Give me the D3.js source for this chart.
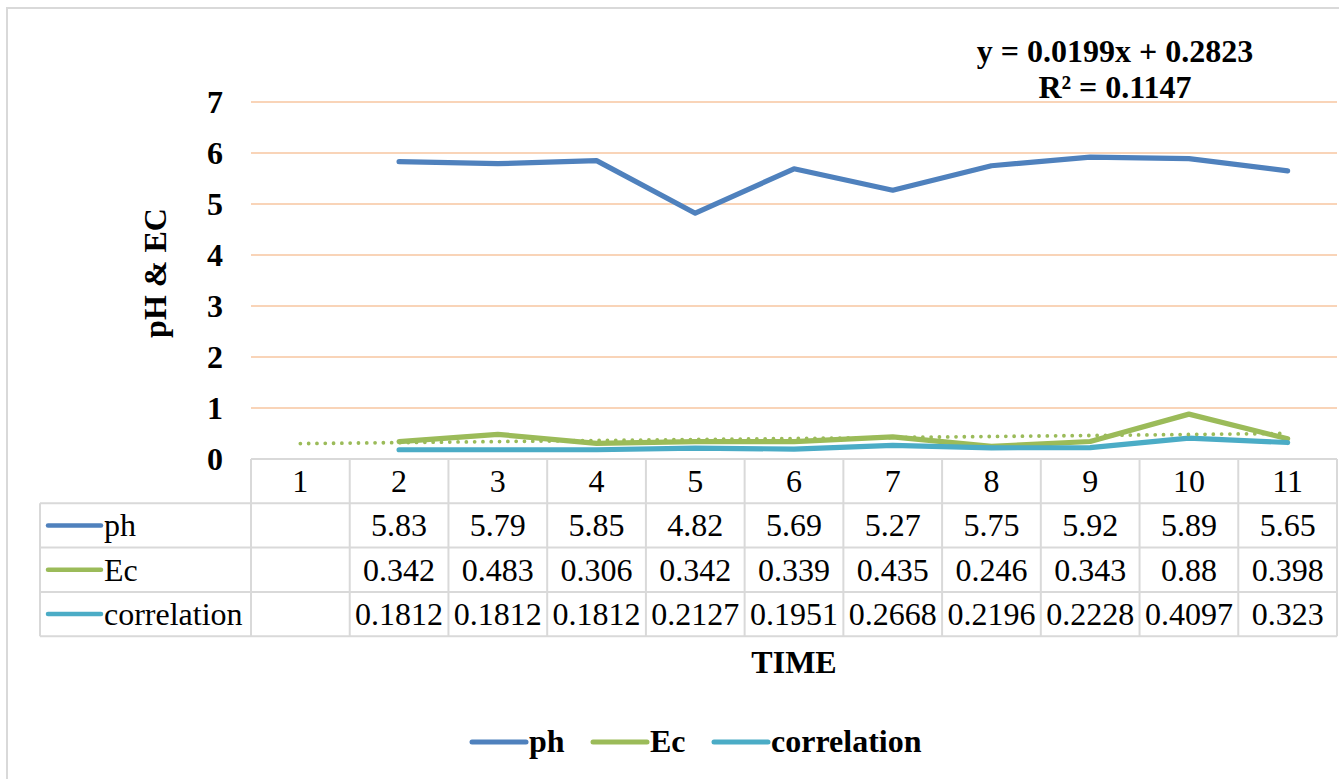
<!DOCTYPE html>
<html>
<head>
<meta charset="utf-8">
<script src="https://cdn.jsdelivr.net/npm/d3@7"></script>
<style>
  html, body { margin: 0; padding: 0; background: #fff; }
  svg { display: block; font-family: "Liberation Serif", "Times New Roman", serif; }
</style>
</head>
<body>
<svg id="chart" width="1339" height="779"></svg>
<script>
// ---------- data ----------
const categories = ["1", "2", "3", "4", "5", "6", "7", "8", "9", "10", "11"];
const phValues   = [null, 5.83, 5.79, 5.85, 4.82, 5.69, 5.27, 5.75, 5.92, 5.89, 5.65];
const ecValues   = [null, 0.342, 0.483, 0.306, 0.342, 0.339, 0.435, 0.246, 0.343, 0.88, 0.398];
const corrValues = [null, 0.1812, 0.1812, 0.1812, 0.2127, 0.1951, 0.2668, 0.2196, 0.2228, 0.4097, 0.323];
const phLabels   = ["", "5.83", "5.79", "5.85", "4.82", "5.69", "5.27", "5.75", "5.92", "5.89", "5.65"];
const ecLabels   = ["", "0.342", "0.483", "0.306", "0.342", "0.339", "0.435", "0.246", "0.343", "0.88", "0.398"];
const corrLabels = ["", "0.1812", "0.1812", "0.1812", "0.2127", "0.1951", "0.2668", "0.2196", "0.2228", "0.4097", "0.323"];
const yTicks = [0, 1, 2, 3, 4, 5, 6, 7];
const trendSlope = 0.0199, trendIntercept = 0.2823;
const trendText = ["y = 0.0199x + 0.2823", "R\u00B2 = 0.1147"];
const seriesNames = ["ph", "Ec", "correlation"];
const seriesColors = ["#4f81bd", "#9bbb59", "#4bacc6"];

// ---------- layout ----------
const svg = d3.select("#chart");
const plotL = 251, plotR = 1337, plotT = 102, plotB = 459;
const rowH = 44.3;
const tableL = 40;
const gridColor = "#f7c6a0";
const borderColor = "#d9d9d9";

const x = d3.scaleBand().domain(categories).range([plotL, plotR]).padding(0);
const y = d3.scaleLinear().domain([0, 7]).range([plotB, plotT]);
const cx = c => x(c) + x.bandwidth() / 2;

// outer chart border
svg.append("rect").attr("x", 7).attr("y", 8).attr("width", 1400).attr("height", 900)
  .attr("fill", "none").attr("stroke", borderColor).attr("stroke-width", 2);

// gridlines
svg.append("g").selectAll("line").data(yTicks.filter(t => t > 0)).join("line")
  .attr("x1", plotL).attr("x2", plotR)
  .attr("y1", d => y(d)).attr("y2", d => y(d))
  .attr("stroke", gridColor).attr("stroke-width", 1.6);

// y tick labels
svg.append("g").selectAll("text").data(yTicks).join("text")
  .attr("x", 223).attr("y", d => y(d) + 11)
  .attr("text-anchor", "end").attr("font-weight", "bold").attr("font-size", 32)
  .text(d => d);

// y title
svg.append("text")
  .attr("transform", "translate(166,273) rotate(-90)")
  .attr("text-anchor", "middle").attr("font-weight", "bold").attr("font-size", 32)
  .text("pH & EC");

// ---------- data table ----------
const tbl = svg.append("g");
const tableB = plotB + 4 * rowH;
tbl.append("line").attr("x1", plotL).attr("x2", plotR).attr("y1", plotB).attr("y2", plotB)
  .attr("stroke", borderColor).attr("stroke-width", 2);
[1, 2, 3, 4].forEach(i => {
  tbl.append("line").attr("x1", tableL).attr("x2", plotR)
    .attr("y1", plotB + i * rowH).attr("y2", plotB + i * rowH)
    .attr("stroke", borderColor).attr("stroke-width", 2);
});
categories.forEach(c => {
  tbl.append("line").attr("x1", x(c)).attr("x2", x(c)).attr("y1", plotB).attr("y2", tableB)
    .attr("stroke", borderColor).attr("stroke-width", 2);
});
tbl.append("line").attr("x1", plotR).attr("x2", plotR).attr("y1", plotB).attr("y2", tableB)
  .attr("stroke", borderColor).attr("stroke-width", 2);
tbl.append("line").attr("x1", tableL).attr("x2", tableL).attr("y1", plotB + rowH).attr("y2", tableB)
  .attr("stroke", borderColor).attr("stroke-width", 2);

// header row (categories)
tbl.append("g").selectAll("text").data(categories).join("text")
  .attr("x", d => cx(d)).attr("y", plotB + 33)
  .attr("text-anchor", "middle").attr("font-size", 32).text(d => d);

const rowLabels = [phLabels, ecLabels, corrLabels];
rowLabels.forEach((labels, r) => {
  const top = plotB + (r + 1) * rowH;
  tbl.append("g").selectAll("text").data(categories).join("text")
    .attr("x", d => cx(d)).attr("y", top + 33)
    .attr("text-anchor", "middle").attr("font-size", 32)
    .text((d, i) => labels[i]);
  tbl.append("line").attr("x1", 48).attr("x2", 101)
    .attr("y1", top + rowH / 2).attr("y2", top + rowH / 2)
    .attr("stroke", seriesColors[r]).attr("stroke-width", 4.5).attr("stroke-linecap", "round");
  tbl.append("text").attr("x", 104).attr("y", top + 33)
    .attr("font-size", 32).text(seriesNames[r]);
});

// x title
svg.append("text").attr("x", 794).attr("y", 673)
  .attr("text-anchor", "middle").attr("font-weight", "bold").attr("font-size", 32)
  .text("TIME");

// ---------- series lines ----------
const allSeries = [phValues, ecValues, corrValues];
const line = d3.line()
  .defined(d => d.v != null)
  .x(d => cx(d.c)).y(d => y(d.v));
allSeries.forEach((vals, i) => {
  const pts = categories.map((c, j) => ({ c, v: vals[j] }));
  svg.append("path").datum(pts).attr("d", line)
    .attr("fill", "none").attr("stroke", seriesColors[i]).attr("stroke-width", 5.2)
    .attr("stroke-linejoin", "round").attr("stroke-linecap", "round");
});

// trendline for Ec (linear)
const trendPts = [categories[0], categories[categories.length - 1]].map(c => ({
  c, v: trendIntercept + trendSlope * (+c)
}));
svg.append("path").datum(trendPts).attr("d", line)
  .attr("fill", "none").attr("stroke", seriesColors[1]).attr("stroke-width", 3.8)
  .attr("stroke-linecap", "round").attr("stroke-dasharray", "0 8.3");

// trend equation
trendText.forEach((t, i) => {
  svg.append("text").attr("x", 1115).attr("y", 62 + i * 36)
    .attr("text-anchor", "middle").attr("font-weight", "bold").attr("font-size", 32)
    .text(t);
});

// ---------- legend ----------
const legendItems = [
  { name: "ph", x0: 472, color: seriesColors[0] },
  { name: "Ec", x0: 593, color: seriesColors[1] },
  { name: "correlation", x0: 714, color: seriesColors[2] }
];
const lg = svg.append("g");
legendItems.forEach(it => {
  lg.append("line").attr("x1", it.x0).attr("x2", it.x0 + 54).attr("y1", 742).attr("y2", 742)
    .attr("stroke", it.color).attr("stroke-width", 5).attr("stroke-linecap", "round");
  lg.append("text").attr("x", it.x0 + 57).attr("y", 752)
    .attr("font-weight", "bold").attr("font-size", 32).text(it.name);
});
</script>
</body>
</html>
